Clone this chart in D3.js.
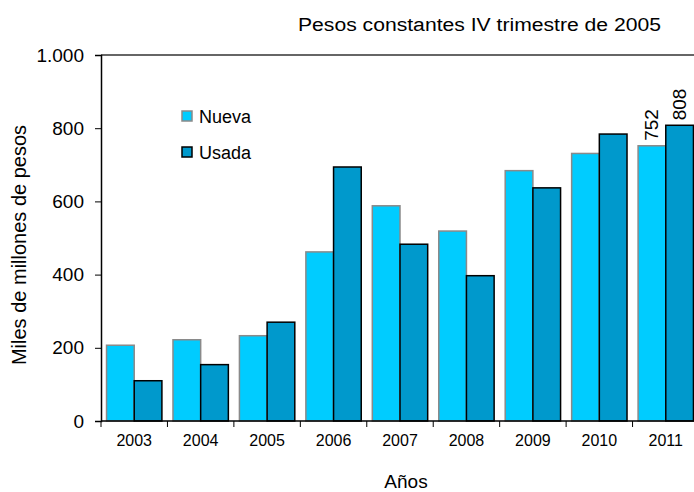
<!DOCTYPE html>
<html>
<head>
<meta charset="utf-8">
<script src="https://cdn.jsdelivr.net/npm/d3@7/dist/d3.min.js"></script>
<style>
  html, body { margin: 0; padding: 0; background: #fff; }
  svg { display: block; font-family: "Liberation Sans", Arial, sans-serif; }
</style>
</head>
<body>
<svg id="chart" width="694" height="492"></svg>
<script>
const years = ["2003","2004","2005","2006","2007","2008","2009","2010","2011"];
const seriesNames = ["Nueva","Usada"];
const nueva = [207, 222, 233, 462, 588, 519, 684, 731, 752];
const usada = [110, 154, 270, 694, 483, 397, 637, 784, 808];
const yTicks = [0, 200, 400, 600, 800, 1000];
const labeledYear = "2011";
const titleText = "Pesos constantes IV trimestre de 2005";
const xTitle = "Años";
const yTitle = "Miles de millones de pesos";

const fills = { Nueva: "#00CCFF", Usada: "#0099CC" };
const strokes = { Nueva: "#8a8a8a", Usada: "#000000" };

const svg = d3.select("#chart");
const mLeft = 101, mRight = 699, mTop = 55, mBottom = 421;

const x0 = d3.scaleBand().domain(years).range([mLeft, mRight]).padding(0);
const x1 = d3.scaleBand().domain(seriesNames).range([0, x0.bandwidth()]).paddingInner(0).paddingOuter(0.2);
const y = d3.scaleLinear().domain([0, 1000]).range([mBottom, mTop]);

const rows = years.map((yr, i) => ({ year: yr, Nueva: nueva[i], Usada: usada[i] }));

// top frame line
svg.append("line").attr("x1", mLeft).attr("x2", 694).attr("y1", y(1000)).attr("y2", y(1000))
  .attr("stroke", "#333").attr("stroke-width", 1.5);

// bars
const g = svg.append("g");
rows.forEach(r => {
  seriesNames.forEach(s => {
    g.append("rect")
      .attr("x", x0(r.year) + x1(s))
      .attr("y", y(r[s]))
      .attr("width", x1.bandwidth())
      .attr("height", y(0) - y(r[s]))
      .attr("fill", fills[s])
      .attr("stroke", strokes[s])
      .attr("stroke-width", 1.5);
  });
});

// data labels for last year
const lr = rows.find(r => r.year === labeledYear);
seriesNames.forEach(s => {
  const cx = x0(lr.year) + x1(s) + x1.bandwidth() / 2;
  svg.append("text")
    .attr("transform", `translate(${cx + 6},${y(lr[s]) - 5}) rotate(-90)`)
    .attr("font-size", 19)
    .attr("fill", "#000")
    .text(lr[s]);
});

// y axis
const fmt = v => d3.format(",")(v).replace(/,/g, ".");
const yAxis = svg.append("g").attr("transform", `translate(${mLeft},0)`)
  .call(d3.axisLeft(y).tickValues(yTicks).tickSize(6).tickPadding(11).tickFormat(fmt));
yAxis.select(".domain").attr("stroke", "#000").attr("stroke-width", 1.5);
yAxis.selectAll(".tick line").attr("stroke", "#000").attr("stroke-width", 1);
yAxis.selectAll("text").attr("font-size", 19).attr("fill", "#000")
  .attr("font-family", "Liberation Sans, Arial, sans-serif");

// x axis
const xAxis = svg.append("g").attr("transform", `translate(0,${mBottom})`)
  .call(d3.axisBottom(x0).tickSize(0).tickPadding(14));
xAxis.select(".domain").remove();
xAxis.append("line").attr("x1", mLeft).attr("x2", 694).attr("y1", 0).attr("y2", 0)
  .attr("stroke", "#000").attr("stroke-width", 1.5);
years.forEach(yr => {
  xAxis.append("line").attr("x1", x0(yr)).attr("x2", x0(yr)).attr("y1", 0).attr("y2", 6)
    .attr("stroke", "#000").attr("stroke-width", 1);
});
xAxis.selectAll(".tick text").attr("font-size", 16).attr("fill", "#000")
  .attr("font-family", "Liberation Sans, Arial, sans-serif");

// titles
svg.append("text").attr("x", 298).attr("y", 31).attr("font-size", 18)
  .attr("textLength", 363).attr("lengthAdjust", "spacingAndGlyphs")
  .attr("fill", "#000").text(titleText);
svg.append("text").attr("x", 406).attr("y", 488).attr("text-anchor", "middle")
  .attr("font-size", 19).attr("fill", "#000").text(xTitle);
svg.append("text").attr("transform", `translate(26,245) rotate(-90)`).attr("text-anchor", "middle")
  .attr("font-size", 20).attr("fill", "#000").text(yTitle);

// legend
seriesNames.forEach((s, i) => {
  const ly = 116 + i * 36;
  svg.append("rect").attr("x", 182).attr("y", ly - 5).attr("width", 10).attr("height", 10)
    .attr("fill", fills[s]).attr("stroke", strokes[s]).attr("stroke-width", 1.5);
  svg.append("text").attr("x", 199).attr("y", ly + 6.5).attr("font-size", 18)
    .attr("fill", "#000").text(s);
});
</script>
</body>
</html>
